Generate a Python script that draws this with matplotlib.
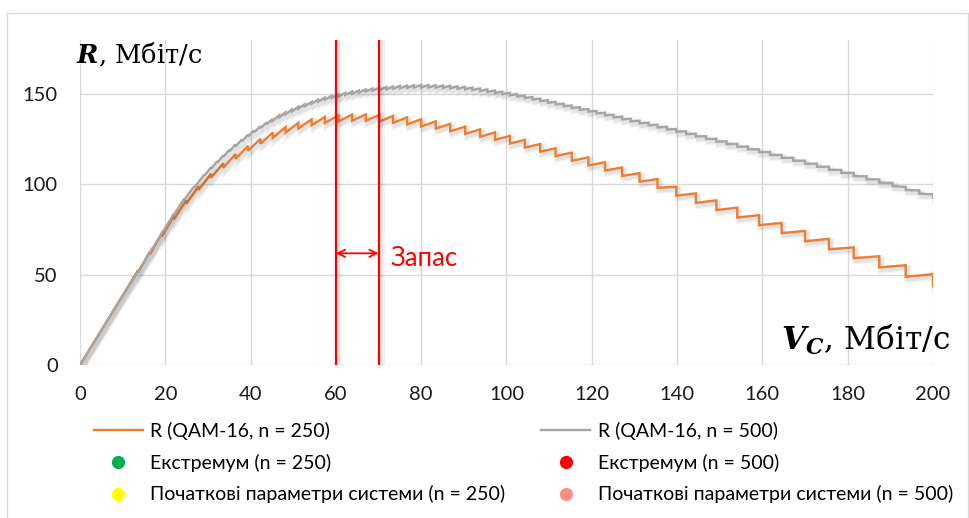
import matplotlib
matplotlib.use("Agg")
import matplotlib.pyplot as plt
import matplotlib.patheffects as pe
from matplotlib.lines import Line2D

plt.rcParams['font.family'] = ['Lato', 'DejaVu Sans']
plt.rcParams['mathtext.fontset'] = 'custom'
plt.rcParams['mathtext.bf'] = 'DejaVu Serif:style=italic:weight=bold'

# R (QAM-16, n = 250): positions of the steps, value just before each step, size of the drop
v250 = [13.6, 16.4, 19.2, 22.0, 24.9, 27.8, 30.7, 33.6, 36.5, 39.4, 42.3, 45.2, 48.2,
        51.2, 54.3, 57.4, 60.6, 63.8, 67.0, 70.2, 73.4, 76.7, 80.0, 83.4, 86.8, 90.3,
        93.8, 97.3, 100.8, 104.3, 107.9, 111.5, 115.3, 119.2, 123.1, 127.1, 131.2,
        135.4, 139.8, 144.4, 149.2, 154.1, 159.2, 164.5, 170.0, 175.6, 181.4, 187.4,
        193.6, 200.0]
top250 = [52.4, 62.8, 72.8, 82.4, 91.2, 99.0, 105.8, 111.6, 116.7, 121.2, 125.2, 128.6,
          131.6, 134.0, 135.9, 137.2, 138.1, 138.6, 138.7, 138.4, 137.8, 137.0, 136.0,
          134.8, 133.4, 131.9, 130.4, 128.8, 126.8, 124.6, 122.3, 120.0, 117.5, 114.9,
          112.2, 109.3, 106.2, 102.9, 98.6, 95.0, 91.1, 87.1, 82.9, 78.6, 74.2, 69.8,
          65.1, 60.2, 55.2, 50.3]
drop250 = [1.2, 1.4, 1.6, 1.8, 2.0, 2.2, 2.3, 2.5, 2.6, 2.7, 2.8, 2.9, 3.0, 3.1, 3.2,
           3.3, 3.4, 3.5, 3.6, 3.7, 3.8, 3.9, 4.0, 4.0, 4.1, 4.1, 4.2, 4.2, 4.3, 4.3,
           4.3, 4.4, 4.5, 4.5, 4.6, 4.7, 4.8, 4.8, 4.9, 5.3, 5.4, 5.5, 5.5, 5.6, 5.7,
           5.8, 6.0, 6.2, 6.4, 6.6]

# R (QAM-16, n = 500)
v500 = [12.0, 14.5, 17.0, 19.5, 22.0, 24.4, 26.8, 29.2, 30.7, 32.2, 33.6, 35.0, 36.5,
        38.0, 39.4, 40.8, 42.3, 43.8, 45.2, 46.7, 48.2, 49.7, 51.2, 52.7, 54.3, 55.8,
        57.4, 59.0, 60.6, 62.2, 63.8, 65.4, 67.0, 68.6, 70.2, 71.8, 73.4, 75.0, 76.7,
        78.3, 80.0, 81.7, 83.4, 85.1, 86.8, 88.5, 90.3, 92.0, 93.8, 95.5, 97.3, 99.0,
        100.8, 102.5, 104.3, 106.1, 107.9, 109.7, 111.5, 113.4, 115.3, 117.2, 119.2,
        121.1, 123.1, 125.1, 127.1, 129.1, 131.2, 133.3, 135.4, 137.6, 139.8, 142.1,
        144.4, 146.8, 149.2, 151.6, 154.1, 156.6, 159.2, 161.8, 164.5, 167.2, 170.0,
        172.8, 175.6, 178.5, 181.4, 184.4, 187.4, 190.5, 193.6, 196.8, 200.0]
top500 = [45.8, 55.2, 64.8, 74.3, 83.6, 91.8, 98.9, 105.5, 109.3, 112.8, 116.0, 119.0,
          122.0, 124.8, 127.4, 129.8, 132.1, 134.2, 136.2, 138.1, 139.8, 141.4, 142.9,
          144.3, 145.6, 146.8, 147.9, 148.9, 149.8, 150.6, 151.3, 151.9, 152.5, 153.0,
          153.4, 153.8, 154.1, 154.4, 154.6, 154.8, 154.9, 154.9, 154.8, 154.7, 154.5,
          154.2, 153.9, 153.5, 153.0, 152.5, 151.9, 151.3, 150.6, 149.9, 149.1, 148.3,
          147.4, 146.5, 145.6, 144.6, 143.6, 142.6, 141.6, 140.6, 139.6, 138.5, 137.4,
          136.3, 135.2, 134.1, 133.0, 131.8, 130.6, 129.3, 128.0, 126.6, 125.2, 123.8,
          122.4, 120.9, 119.4, 117.9, 116.3, 114.7, 113.1, 111.4, 109.7, 108.0, 106.3,
          104.5, 102.7, 100.8, 98.6, 96.6, 94.5]
drop500 = [0.3, 0.3, 0.4, 0.4, 0.5, 0.5, 0.6,
           0.7, 0.7, 0.8, 0.8, 0.8, 0.9, 0.9, 0.9, 1.0, 1.0, 1.0, 1.0,
           1.1, 1.1, 1.1, 1.1, 1.1, 1.1, 1.1, 1.1, 1.2, 1.2, 1.2, 1.2, 1.2, 1.2, 1.2, 1.2,
           1.3, 1.3, 1.3, 1.3, 1.3, 1.3,
           1.4, 1.4, 1.4, 1.4, 1.4, 1.4, 1.4, 1.4, 1.4, 1.4, 1.4, 1.4, 1.4, 1.4, 1.4, 1.4,
           1.4, 1.4, 1.4, 1.4, 1.4, 1.4, 1.4,
           1.5, 1.5, 1.5, 1.5, 1.5, 1.5, 1.5, 1.5, 1.5, 1.6, 1.6, 1.6, 1.6, 1.6, 1.6, 1.6, 1.6,
           1.7, 1.7, 1.7, 1.7, 1.7, 1.7, 1.7, 1.8, 1.8, 1.8, 1.8, 1.8, 1.8, 1.8]

margin_lines = [60, 70]
x_ticks = list(range(0, 201, 20))
y_ticks = [0, 50, 100, 150]

legend_labels = ["R (QAM-16, n = 250)", "R (QAM-16, n = 500)",
                 "Екстремум (n = 250)", "Екстремум (n = 500)",
                 "Початкові параметри системи (n = 250)",
                 "Початкові параметри системи (n = 500)"]


def sawtooth(v, top, drop):
    xs, ys = [0.0], [0.0]
    for x, t, d in zip(v, top, drop):
        xs += [x, x]
        ys += [t, t - d]
    return xs, ys


W, H = 969, 518
fig = plt.figure(figsize=(W / 100, H / 100), dpi=100)
ax = fig.add_axes([80 / W, 1 - 365 / H, (933 - 80) / W, (365 - 39.7) / H])

shadow = [pe.SimpleLineShadow(offset=(1.5, -2.0), shadow_color='black', alpha=0.04, linewidth=5),
          pe.SimpleLineShadow(offset=(1.5, -2.0), shadow_color='black', alpha=0.07, linewidth=3),
          pe.Normal()]

x1, y1 = sawtooth(v250, top250, drop250)
x2, y2 = sawtooth(v500, top500, drop500)
ax.plot(x1, y1, color='#ED7D31', lw=1.7, path_effects=shadow, zorder=3, solid_joinstyle='miter')
ax.plot(x2, y2, color='#A5A5A5', lw=1.7, path_effects=shadow, zorder=4, solid_joinstyle='miter')

for v in margin_lines:
    ax.axvline(v, color='#FF0000', lw=1.6, path_effects=shadow, zorder=5)

ax.annotate('', xy=(60, 61.8), xytext=(70, 61.8),
            arrowprops=dict(arrowstyle='<->', color='#FF0000', lw=1.3,
                            shrinkA=0, shrinkB=0, mutation_scale=13), zorder=6)
ax.text(72.7, 59.0, "Запас", color='#FF0000', fontsize=18.5, ha='left', va='center')

ax.set_xlim(0, 200)
ax.set_ylim(0, 180)
ax.set_xticks(x_ticks)
ax.set_yticks(y_ticks)
ax.grid(True, color='#D9D9D9', lw=1.0)
ax.set_axisbelow(True)
for s in ax.spines.values():
    s.set_visible(False)
ax.tick_params(axis='both', length=0, labelsize=14.5, colors='#1a1a1a')
ax.tick_params(axis='x', pad=15)
ax.tick_params(axis='y', pad=16)

ax.text(-1, 167.5, r"$\mathbf{R}$, Мбіт/с", family='DejaVu Serif', fontsize=18.5,
        ha='left', va='baseline', clip_on=False)
ax.text(204.0, 8.5, r"$\mathbf{V}_{\mathbf{C}}$, Мбіт/с", family='DejaVu Serif', fontsize=22.5,
        ha='right', va='baseline', clip_on=False)

# chart area border
border = dict(color='#D9D9D9', lw=1.0, transform=fig.transFigure)
fig.add_artist(Line2D([7 / W, 968 / W], [1 - 13 / H, 1 - 13 / H], **border))
fig.add_artist(Line2D([7 / W, 7 / W], [0, 1 - 13 / H], **border))
fig.add_artist(Line2D([968 / W, 968 / W], [0, 1 - 13 / H], **border))

handles = [
    Line2D([], [], color='#ED7D31', lw=1.7),
    Line2D([], [], ls='none', marker='o', ms=8.5, color='#00B050'),
    Line2D([], [], ls='none', marker='o', ms=8.5, color='#FFFF00'),
    Line2D([], [], color='#A5A5A5', lw=1.7),
    Line2D([], [], ls='none', marker='o', ms=8.5, color='#FF0000'),
    Line2D([], [], ls='none', marker='o', ms=8.5, color='#FF8B8B'),
]
labels = [legend_labels[0], legend_labels[2], legend_labels[4],
          legend_labels[1], legend_labels[3], legend_labels[5]]
fig.legend(handles, labels, loc='upper left', bbox_to_anchor=(94 / W, 1 - 422 / H),
           ncol=2, frameon=False, fontsize=14, borderpad=0, borderaxespad=0,
           handlelength=2.5, handletextpad=0.4, columnspacing=1.85, labelspacing=0.7)

fig.savefig("out.png", dpi=100)
